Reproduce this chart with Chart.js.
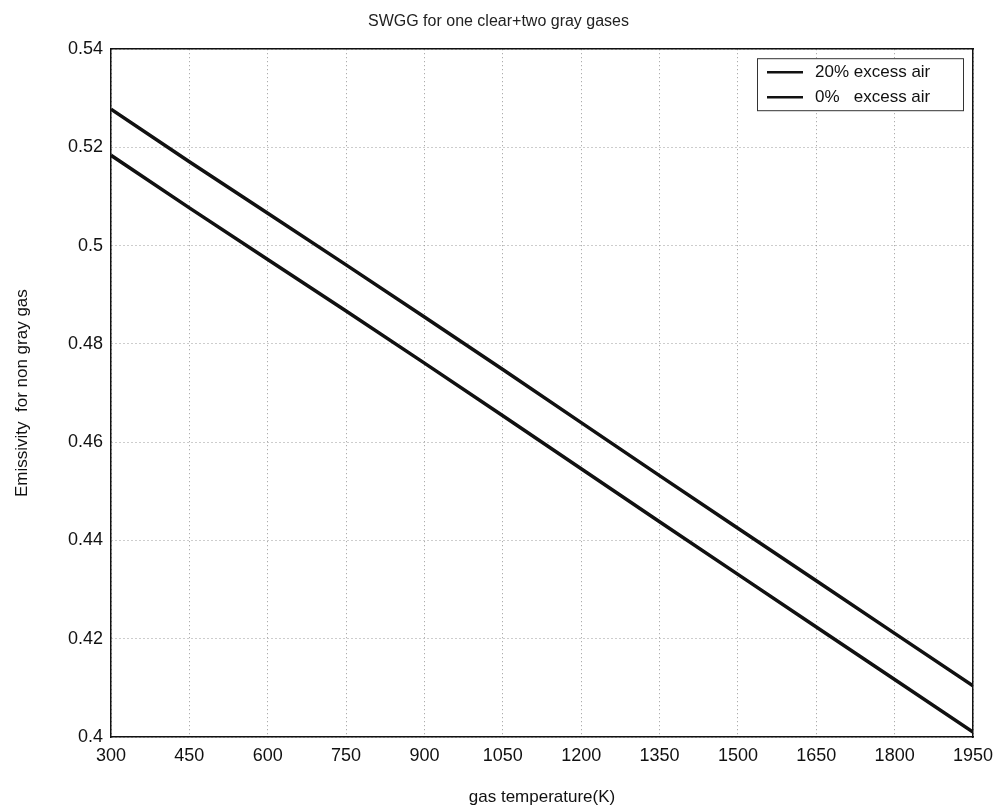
<!DOCTYPE html>
<html>
<head>
<meta charset="utf-8">
<script src="https://cdn.jsdelivr.net/npm/chart.js@4/dist/chart.umd.min.js"></script>
<style>
  body { margin: 0; background: #fff; }
  #wrap { width: 997px; height: 810px; }
</style>
</head>
<body>
<div id="wrap"><canvas id="c" width="997" height="810"></canvas></div>
<script>
// gas temperature (K)
var temps = [300, 450, 600, 750, 900, 1050, 1200, 1350, 1500, 1650, 1800, 1950];
// emissivity, 20% excess air
var air20 = [0.5278, 0.5171, 0.5066, 0.4961, 0.4855, 0.4748, 0.4640, 0.4532, 0.4425, 0.4318, 0.4211, 0.4104];
// emissivity, 0% excess air
var air0 = [0.5184, 0.5077, 0.4972, 0.4867, 0.4761, 0.4654, 0.4546, 0.4438, 0.4331, 0.4224, 0.4117, 0.4010];
var seriesLabels = ['20% excess air', '0%   excess air'];
var xTicks = [300, 450, 600, 750, 900, 1050, 1200, 1350, 1500, 1650, 1800, 1950];
var yTicks = [0.4, 0.42, 0.44, 0.46, 0.48, 0.5, 0.52, 0.54];

var font = "'Liberation Sans', Arial, sans-serif";

function toPoints(xs, ys) {
	var pts = [];
	for (var i = 0; i < xs.length; i++) {
		pts.push({x: xs[i], y: ys[i]});
	}
	return pts;
}

// MATLAB style boxed legend in the top right corner
var boxLegend = {
	id: 'boxLegend',
	afterDatasetsDraw: function(chart) {
		var ctx = chart.ctx;
		var area = chart.chartArea;
		var right = area.right - 10;
		var left = right - 206;
		var top = area.top + 9;
		ctx.save();
		ctx.fillStyle = '#fff';
		ctx.fillRect(left, top, right - left, 52);
		ctx.strokeStyle = '#333';
		ctx.lineWidth = 1;
		ctx.strokeRect(left + 0.5, top + 0.5, right - left, 52);
		ctx.font = '17px ' + font;
		ctx.textBaseline = 'middle';
		var ds = chart.data.datasets;
		for (var i = 0; i < ds.length; i++) {
			var y = top + 14 + i * 25;
			ctx.strokeStyle = ds[i].borderColor;
			ctx.lineWidth = 2.5;
			ctx.beginPath();
			ctx.moveTo(left + 10, y);
			ctx.lineTo(left + 46, y);
			ctx.stroke();
			ctx.fillStyle = '#111';
			ctx.fillText(ds[i].label, left + 58, y);
		}
		ctx.restore();
	}
};

var grid = { color: '#9a9a9a', lineWidth: 1, drawTicks: false };

new Chart(document.getElementById('c'), {
	type: 'line',
	data: {
		datasets: [
			{ label: seriesLabels[0], data: toPoints(temps, air20), borderColor: '#111', borderWidth: 3.5, pointRadius: 0, tension: 0, fill: false },
			{ label: seriesLabels[1], data: toPoints(temps, air0), borderColor: '#111', borderWidth: 3.5, pointRadius: 0, tension: 0, fill: false }
		]
	},
	plugins: [boxLegend],
	options: {
		responsive: false,
		animation: false,
		layout: { padding: 0 },
		plugins: {
			legend: { display: false },
			tooltip: { enabled: false },
			title: {
				display: true,
				text: 'SWGG for one clear+two gray gases',
				color: '#222',
				font: { family: font, size: 16, weight: 'normal' },
				padding: { top: 12, bottom: 18 }
			}
		},
		scales: {
			x: {
				type: 'linear',
				min: 300,
				max: 1950,
				afterBuildTicks: function(scale) {
					scale.ticks = xTicks.map(function(v) { return {value: v}; });
				},
				afterFit: function(scale) {
					scale.height = 73;
					scale.paddingLeft = 0;
					scale.paddingRight = 0;
				},
				ticks: {
					color: '#111',
					padding: 8,
					maxRotation: 0,
					font: { family: font, size: 18 },
					callback: function(v) { return String(v); }
				},
				grid: grid,
				border: { display: true, color: '#111', width: 1.5, dash: [1, 3] },
				title: {
					display: true,
					text: 'gas temperature(K)',
					color: '#111',
					font: { family: font, size: 17 },
					padding: { top: 0, bottom: 2 }
				}
			},
			x2: {
				type: 'linear',
				position: 'top',
				min: 300,
				max: 1950,
				afterFit: function(scale) { scale.height = 0; },
				ticks: { display: false },
				grid: { drawOnChartArea: false, drawTicks: false },
				border: { display: true, color: '#111', width: 1.5 }
			},
			y: {
				type: 'linear',
				min: 0.4,
				max: 0.54,
				afterBuildTicks: function(scale) {
					scale.ticks = yTicks.map(function(v) { return {value: v}; });
				},
				afterFit: function(scale) {
					scale.width = 111;
					scale.paddingTop = 0;
					scale.paddingBottom = 0;
				},
				ticks: {
					color: '#111',
					padding: 8,
					font: { family: font, size: 18 },
					callback: function(v) { return String(Math.round(v * 100) / 100); }
				},
				grid: grid,
				border: { display: true, color: '#111', width: 1.5, dash: [1, 3] },
				title: {
					display: true,
					text: 'Emissivity  for non gray gas',
					color: '#111',
					font: { family: font, size: 17 },
					padding: { top: 12, bottom: 0 }
				}
			},
			y2: {
				type: 'linear',
				position: 'right',
				min: 0.4,
				max: 0.54,
				afterFit: function(scale) { scale.width = 24; },
				ticks: { display: false },
				grid: { drawOnChartArea: false, drawTicks: false },
				border: { display: true, color: '#111', width: 1.5 }
			}
		}
	}
});
</script>
</body>
</html>
